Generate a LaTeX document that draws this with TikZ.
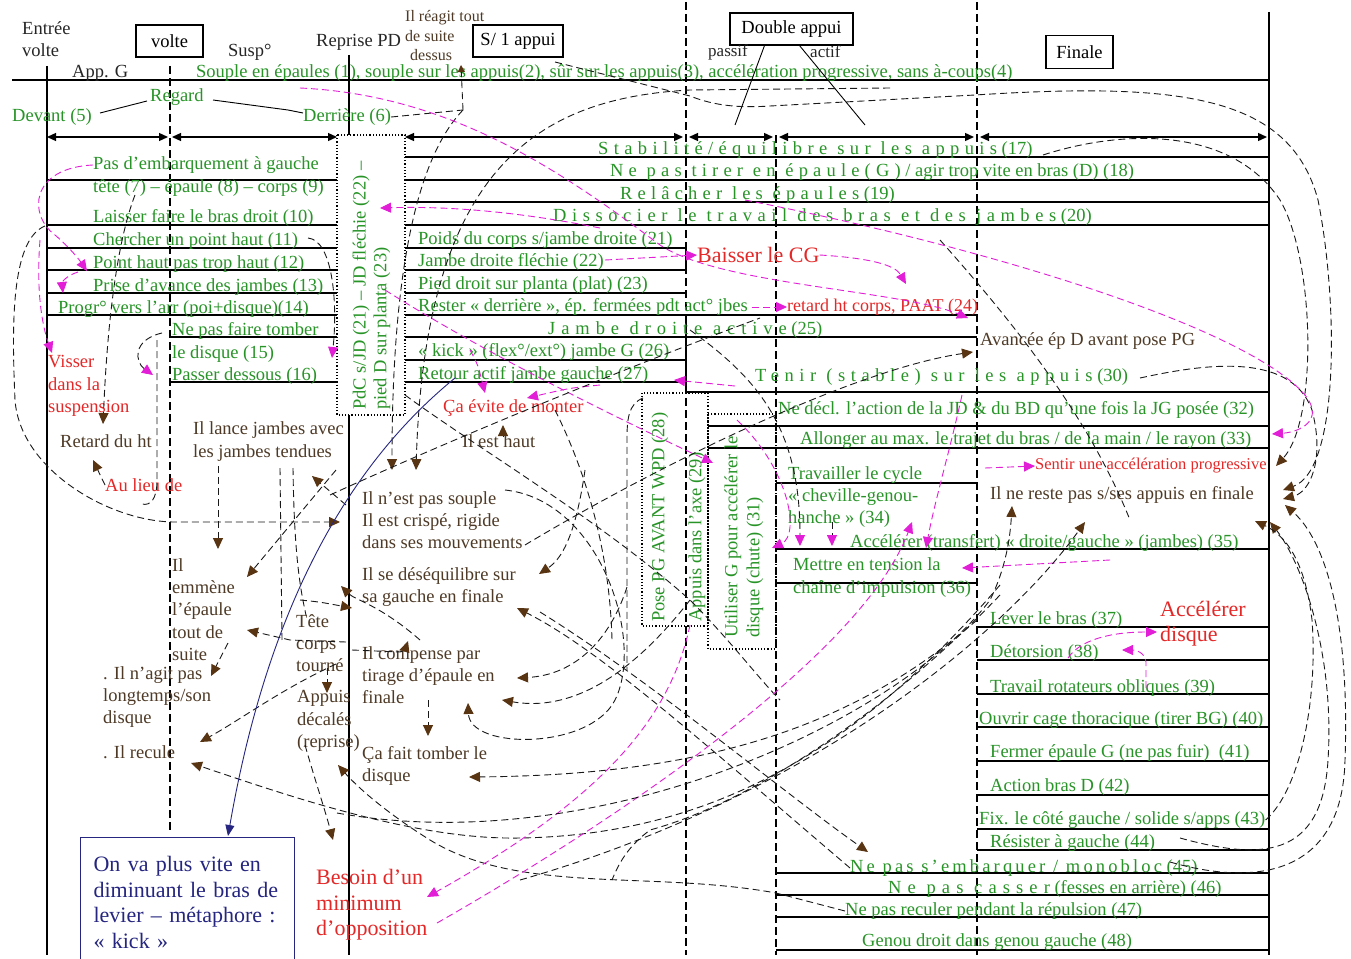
\documentclass[tikz,border=0pt]{standalone}
\usepackage{fontspec}
\setmainfont{Liberation Serif}
\usetikzlibrary{arrows.meta}
\definecolor{grn}{RGB}{40,148,40}
\definecolor{rd}{RGB}{228,40,40}
\definecolor{brn}{RGB}{78,58,38}
\definecolor{tipc}{RGB}{88,52,18}
\definecolor{mag}{RGB}{226,30,214}
\definecolor{nav}{RGB}{38,38,128}
\newcommand\lsp[2][25]{{\addfontfeature{LetterSpace=#1}#2}}
\begin{document}
\begin{tikzpicture}[x=1pt,y=-1pt,
  every node/.style={inner sep=0pt, anchor=west},
  txt/.style={font=\fontsize{18.5}{22.3}\selectfont},
  tgr/.style={txt, text=grn},
  tbr/.style={txt, text=brn},
  tbk/.style={txt, text=black!85},
  treds/.style={txt, text=rd},
  tred/.style={font=\fontsize{22}{25.5}\selectfont, text=rd},
  phase/.style={draw, line width=1.1pt, anchor=center, minimum height=32pt, txt, text=black},
  frm/.style={line width=1.3pt},
  vdash/.style={line width=1.3pt, dash pattern=on 8pt off 4pt},
  dotbox/.style={line width=1.1pt, dash pattern=on 1.2pt off 2pt},
  lk/.style={line width=0.9pt, dash pattern=on 7pt off 4pt, black!90},
  lm/.style={line width=0.9pt, dash pattern=on 7pt off 4pt, mag},
  tipb/.style={-{Triangle[length=11pt,width=10pt,color=tipc]}},
  tipbs/.style={-{Triangle[length=7pt,width=7pt,color=tipc]}},
  tipm/.style={-{Triangle[length=11pt,width=10pt,color=mag]}},
  spanarrow/.style={frm, {Triangle[length=9pt,width=8pt]}-{Triangle[length=9pt,width=8pt]}}
]
\useasboundingbox (0,0) rectangle (1351,958);
\fill[white] (0,0) rectangle (1351,958);

% ---------- frame of the chart ----------
\draw[frm] (12,80) -- (1269,80);
\draw[frm] (47,66) -- (47,955);
\draw[frm] (1269,12) -- (1269,955);
\draw[frm] (349,55) -- (349,135);
\draw[frm] (349,415) -- (349,955);
\draw[vdash] (170,66) -- (170,830);
\draw[vdash] (686,2) -- (686,955);
\draw[vdash] (776,135) -- (776,955);
\draw[vdash] (977,2) -- (977,955);

% phase spans
\draw[spanarrow] (47,137) -- (168,137);
\draw[spanarrow] (172,137) -- (337,137);
\draw[spanarrow] (405,137) -- (683,137);
\draw[spanarrow] (689,137) -- (773,137);
\draw[spanarrow] (779,137) -- (974,137);
\draw[spanarrow] (980,137) -- (1267,137);

% left column rows
\foreach \yy in {180,225,248,270,293,315} \draw[frm] (47,\yy) -- (337,\yy);
\foreach \yy in {337,382} \draw[frm] (170,\yy) -- (337,\yy);

% right part rows
\foreach \yy in {157,180,202,225} \draw[frm] (405,\yy) -- (1269,\yy);
\foreach \yy in {248,270,293,360,382} \draw[frm] (405,\yy) -- (686,\yy);
\foreach \yy in {315,337} \draw[frm] (405,\yy) -- (977,\yy);
\draw[frm] (686,248) -- (686,270);
\draw[frm] (686,315) -- (686,392);
\draw[frm] (686,392) -- (1269,392);
\foreach \yy in {426,448} \draw[frm] (708,\yy) -- (1269,\yy);
\foreach \yy in {483,583} \draw[frm] (776,\yy) -- (977,\yy);
\draw[frm] (776,549) -- (1269,549);
\foreach \yy in {627,660,694,727,761,795,829,850} \draw[frm] (977,\yy) -- (1269,\yy);
\foreach \yy in {873,895,917,950} \draw[frm] (776,\yy) -- (1269,\yy);

% dotted boxes
\draw[dotbox] (337,135) rectangle (405,415);
\draw[dotbox] (642,393) rectangle (708,626);
\draw[dotbox] (708,414) rectangle (776,649);

% ---------- headings ----------
\node[tbk, align=left] (entree) at (22,39) {Entrée\\volte};
\node[phase, minimum width=67pt] (volte) at (169.5,41) {volte};
\node[tbk] (susp) at (228,52) {Susp°};
\node[tbk] (reprise) at (316,42) {Reprise PD};
\node[tbr, align=left, font=\fontsize{16}{19.5}\selectfont] (reagit) at (405,36) {Il réagit tout\\de suite\\\hspace*{5pt}dessus};
\node[phase, minimum width=90pt] (s1) at (518,41) {S/ 1 appui};
\node[phase, minimum width=123pt] (dbl) at (791.5,29) {Double appui};
\node[tbk, font=\fontsize{17}{20}\selectfont] (passif) at (708,52) {passif};
\node[tbk, font=\fontsize{17}{20}\selectfont] (actif) at (810,52) {actif};
\node[phase, minimum width=67pt, minimum height=33pt] (finale) at (1079.5,52) {Finale};
\node[tbk] (appg) at (72,73) {App. G};
\node[tgr] (souple) at (196,73) {Souple en épaules (1), souple sur les appuis(2), sûr sur les appuis(3), accélération progressive, sans à-coups(4)};
\node[tgr] (regard) at (150,97) {Regard};
\node[tgr] (devant) at (12,117) {Devant (5)};
\node[tgr] (derriere) at (303,117) {Derrière (6)};
\draw[line width=0.9pt] (100,113) -- (147,101);
\draw[line width=0.9pt] (213,100) -- (288,110) -- (303,113);
\draw[line width=0.9pt] ([xshift=-27pt]dbl.south) -- (735,125);
\draw[line width=0.9pt] ([xshift=8pt]dbl.south) -- (865,125);

% ---------- left column ----------
\node[tgr] (t5) at (93,165) {Pas d’embarquement à gauche};
\node[tgr] (t7) at (93,188) {tête (7) – épaule (8) – corps (9)};
\node[tgr] (t10) at (93,218) {Laisser faire le bras droit (10)};
\node[tgr] (t11) at (93,241) {Chercher un point haut (11)};
\node[tgr] (t12) at (93,264) {Point haut pas trop haut (12)};
\node[tgr] (t13) at (93,287) {Prise d’avance des jambes (13)};
\node[tgr] (t14) at (58,309) {Progr° vers l’arr (poi+disque)(14)};
\node[tgr, align=left] (t15) at (172,342.5) {Ne pas faire tomber\\le disque (15)};
\node[tgr] (t16) at (172,376) {Passer dessous (16)};
\node[tgr, rotate=90] (pdc1) at (361,410) {PdC s/JD (21) – JD fléchie (22) –};
\node[tgr, rotate=90] (pdc2) at (382,410) {pied D sur planta (23)};

% ---------- right rows ----------
\node[tgr] (t17) at (598,150) {\lsp[29]{Stabilité/équilibre sur les appuis} (17)};
\node[tgr] (t18) at (610,172) {\lsp[28]{Ne pas tirer en épaule(G)} / agir trop vite en bras (D) (18)};
\node[tgr] (t19) at (620,195) {\lsp[28]{Relâcher les épaules} (19)};
\node[tgr] (t20) at (553,217) {\lsp[30]{Dissocier le travail des bras et des jambes} (20)};
\node[tgr] (t21) at (418,240) {Poids du corps s/jambe droite (21)};
\node[tgr] (t22) at (418,262) {Jambe droite fléchie (22)};
\node[tgr] (t23) at (418,285) {Pied droit sur planta (plat) (23)};
\node[tgr] (t24) at (418,307) {Rester « derrière », ép. fermées pdt act° jbes};
\node[treds, font=\fontsize{18}{21}\selectfont] (retard) at (787,307) {retard ht corps, PAAT (24)};
\node[tgr] (t25) at (548,330) {\lsp[32]{Jambe droite active} (25)};
\node[tgr] (t26) at (418,352) {« kick » (flex°/ext°) jambe G (26)};
\node[tgr] (t27) at (418,375) {Retour actif jambe gauche (27)};
\node[tgr] (t30) at (755,377) {\lsp[30]{Tenir (stable) sur les appuis} (30)};
\node[tgr] (t32) at (778,410) {Ne décl. l’action de la JD \& du BD qu’une fois la JG posée (32)};
\node[tgr] (t33) at (800,440) {Allonger au max. le trajet du bras / de la main / le rayon (33)};
\node[tgr, align=left] (t34) at (788,497) {Travailler le cycle\\« cheville-genou-\\hanche » (34)};
\node[tgr] (t35) at (850,543) {Accélérer (transfert) « droite/gauche » (jambes) (35)};
\node[tgr, align=left] (t36) at (793,577.5) {Mettre en tension la\\chaîne d’impulsion (36)};
\node[tgr, rotate=90] (t28) at (660,622) {Pose PG AVANT WPD (28)};
\node[tgr, rotate=90] (t29) at (697,622) {Appuis dans l’axe (29)};
\node[tgr, rotate=90] (t31a) at (733,638) {Utiliser G pour accélérer le};
\node[tgr, rotate=90] (t31b) at (755,638) {disque (chute) (31)};
\node[treds, font=\fontsize{22}{25}\selectfont] (cg) at (697,255) {Baisser le CG};

% ---------- final column ----------
\node[tbr] (avancee) at (980,341) {Avancée ép D avant pose PG};
\node[treds, font=\fontsize{16.5}{19}\selectfont] (sentir) at (1035,466) {Sentir une accélération progressive};
\node[tbr] (reste) at (990,495) {Il ne reste pas s/ses appuis en finale};
\node[tgr] (t37) at (990,620) {Lever le bras (37)};
\node[tred, align=left] (accel) at (1160,623.5) {Accélérer\\disque};
\node[tgr] (t38) at (990,653) {Détorsion (38)};
\node[tgr] (t39) at (990,688) {Travail rotateurs obliques (39)};
\node[tgr] (t40) at (979,720) {Ouvrir cage thoracique (tirer BG) (40)};
\node[tgr] (t41) at (990,753) {Fermer épaule G (ne pas fuir) \ (41)};
\node[tgr] (t42) at (990,787) {Action bras D (42)};
\node[tgr] (t43) at (979,820) {Fix. le côté gauche / solide s/apps (43)};
\node[tgr] (t44) at (990,843) {Résister à gauche (44)};
\node[tgr] (t45) at (850,868) {\lsp[17]{Ne pas s’embarquer / monobloc} (45)};
\node[tgr] (t46) at (888,889) {\lsp[33]{Ne pas casser} (fesses en arrière) (46)};
\node[tgr] (t47) at (845,911) {Ne pas reculer pendant la répulsion (47)};
\node[tgr] (t48) at (862,942) {Genou droit dans genou gauche (48)};

% ---------- observations ----------
\node[treds, align=left] (visser) at (48,386) {Visser\\dans la\\suspension};
\node[tbr] (retardht) at (60,441) {Retard du ht};
\node[treds] (aulieu) at (105,485) {Au lieu de};
\node[tbr, align=left] (lance) at (193,441.5) {Il lance jambes avec\\les jambes tendues};
\node[treds] (evite) at (443,408) {Ça évite de monter};
\node[tbr] (haut) at (462,441) {Il est haut};
\node[tbr, align=left] (souplepas) at (362,520) {Il n’est pas souple\\Il est crispé, rigide\\dans ses mouvements};
\node[tbr, align=left] (desequ) at (362,587) {Il se déséquilibre sur\\sa gauche en finale};
\node[tbr, align=left] (emmene) at (172,609.5) {Il\\emmène\\l’épaule\\tout de\\suite};
\node[tbr, align=left] (tete) at (296,643) {Tête\\corps\\tourné};
\node[tbr, align=left] (appuis) at (297,721) {Appuis\\décalés\\(reprise)};
\node[tbr, align=left] (compense) at (362,675) {Il compense par\\tirage d’épaule en\\finale};
\node[tbr, align=left] (tombe) at (362,766) {Ça fait tomber le\\disque};
\node[tbr, align=left] (agit) at (103,697) {. Il n’agit pas\\longtemps/son\\disque};
\node[tbr] (recule) at (103,752) {. Il recule};
\node[tred, align=left] (besoin) at (316,905) {Besoin d’un\\minimum\\d’opposition};
\node[draw=nav, line width=1.1pt, text=nav, font=\fontsize{22}{25.8}\selectfont, align=left,
      anchor=north west, text width=188pt, minimum height=130pt, inner xsep=13pt, inner ysep=4pt] (kick) at (80,837) {On va plus vite en\\diminuant le bras de\\levier – métaphore :\\« kick »};

% ---------- connectors: top band ----------
\draw[lk] (derriere.east) -- (463,110);
\draw[lk, tipbs] (463,110) -- (461,65);
\draw[lk, tipb] (463,110) .. controls (410,165) and (392,300) .. (392,470);
\draw[lk, tipb] (890,88) -- (690,90) .. controls (540,98) and (425,165) .. (416,470);
\draw[lk, tipb] (555,62) -- (690,96) .. controls (715,106) and (740,108) .. (770,106) -- (975,95) .. controls (1180,82) and (1290,95) .. (1318,200) .. controls (1338,300) and (1340,470) .. (1283,490);
\draw[lk, tipb] (1043,155) .. controls (1120,130) and (1230,125) .. (1280,200) .. controls (1315,260) and (1318,420) .. (1276,466);
\draw[lk, tipb] (1140,378) .. controls (1200,365) and (1290,350) .. (1312,410) .. controls (1325,460) and (1310,492) .. (1283,499);
\draw[lk] (940,240) .. controls (1020,330) and (1090,420) .. (1130,520);

% magenta links, upper part
\draw[lm, tipm] (300,88) .. controls (450,95) and (560,170) .. (660,245) .. controls (720,285) and (900,290) .. (968,318);
\draw[lm, tipm] (600,228) .. controls (520,212) and (450,206) .. (380,208);
\draw[lm, tipm] (605,260) -- (cg.west);
\draw[lm, tipm] (cg.east) .. controls (870,258) and (895,265) .. (906,284);
\draw[lm, tipm] (752,307) -- (retard.west);
\draw[lm, tipm] (745,200) .. controls (1000,250) and (1250,330) .. (1305,395) .. controls (1325,420) and (1300,432) .. (1272,434);

% ---------- connectors: left column ----------
\draw[lm, tipm] (t5.west) .. controls (30,168) and (28,215) .. (55,235) .. controls (68,246) and (78,258) .. (87,271);
\draw[lm, tipm] (78,272) .. controls (65,276) and (62,283) .. (63,293);
\draw[lm, tipm] (40,240) .. controls (36,290) and (42,325) .. (52,353);
\draw[lk, tipm] (162,333) .. controls (132,340) and (135,362) .. (153,375);
\draw[lk, tipm] (308,238) .. controls (332,240) and (338,300) .. (332,358);
\draw[lk, tipb] (45,226) .. controls (10,240) and (12,330) .. (15,400) .. controls (20,470) and (110,522) .. (175,522) -- (340,522);
\draw[lk, tipb] (135,195) .. controls (110,260) and (105,380) .. (103,424);
\draw[lk, tipb] (aulieu.west) -- (93,460);
\draw[lk] (157,340) -- (157,480) .. controls (157,500) and (150,506) .. (142,504);
\draw[lk, tipb] (218,466) -- (218,549);
\draw[lk, tipb] (336,470) -- (247,577);
\draw[lk] (280,468) -- (282,640);
\draw[lk] (293,468) .. controls (294,540) and (298,580) .. (306,615);
\draw[lk, tipb] (346,505) -- (312,476);
\draw[lk, tipb] (346,642) -- (290,640) -- (247,630);
\draw[lk, tipb] (228,643) -- (211,676);
\draw[lk, tipb] (336,664) .. controls (280,690) and (240,720) .. (200,742);
\draw[lk, tipb] (327,668) -- (327,693);
\draw[lk, tipb] (305,745) .. controls (315,780) and (325,810) .. (333,840);
\draw[lk, tipb] (1000,585) .. controls (850,760) and (700,835) .. (520,838) .. controls (420,840) and (300,800) .. (191,763);
\draw[lk, tipb] (t47.west) -- (776,893) .. controls (650,870) and (520,895) .. (430,840) .. controls (390,815) and (360,790) .. (338,765);
\draw[nav, line width=0.9pt, -{Triangle[length=11pt,width=9pt]}] (455,378) .. controls (330,480) and (262,640) .. (228,836);

% ---------- connectors: centre ----------
\draw[lk, tipb] (503,437) -- (503,425);
\draw[lm, tipm] (470,350) .. controls (478,365) .. (485,393);
\draw[lm, tipm] (600,385) .. controls (570,388) .. (527,398);
\draw[lm, tipm] (385,290) .. controls (480,350) and (600,410) .. (713,463);
\draw[lm, tipm] (735,386) -- (674,380);
\draw[lk, tipb] (525,545) .. controls (650,470) and (850,370) .. (973,352);
\draw[lk] (330,495) .. controls (450,440) and (620,370) .. (760,318);
\draw[lk, tipb] (505,490) .. controls (600,500) and (645,640) .. (615,700) .. controls (590,750) and (470,750) .. (468,703);
\draw[lk, tipb] (690,600) .. controls (620,690) and (560,710) .. (502,700);
\draw[lk, tipb] (627,587) .. controls (610,640) and (575,675) .. (517,678);
\draw[lk, tipb] (428,700) -- (428,736);
\draw[lk, tipb] (977,620) .. controls (850,730) and (700,775) .. (469,777);
\draw[lk, tipb] (585,470) .. controls (575,540) and (560,560) .. (539,574);
\draw[lk, tipb] (t45.west) .. controls (700,740) and (600,650) .. (517,608);
\draw[lk, tipb] (540,612) .. controls (650,680) and (780,790) .. (868,852);
\draw[lk, tipb] (352,650) -- (400,652) .. controls (405,650) .. (408,641);
\draw[lk, tipb] (420,640) .. controls (380,605) and (355,600) .. (341,586);
\draw[lk, tipb] (300,600) .. controls (320,602) .. (352,608);
\draw[lk] (643,398) .. controls (628,404) and (627,420) .. (627,440) -- (627,670);
\draw[lk] (405,395) .. controls (480,450) and (600,520) .. (690,600) .. controls (730,640) and (760,680) .. (780,700);
\draw[lk] (555,410) .. controls (590,480) and (610,560) .. (612,640);
\draw[lk] (1000,595) .. controls (900,700) and (760,800) .. (650,830) .. controls (630,845) and (620,860) .. (612,880);

% ---------- connectors: right part ----------
\draw[lk, tipm] (690,330) .. controls (760,380) and (800,430) .. (800,546);
\draw[lk, tipm] (832,522) -- (832,546);
\draw[lm, tipm] (737,420) .. controls (790,470) and (800,535) .. (772,548);
\draw[lm, tipm] (962,395) .. controls (950,450) and (935,500) .. (926,548);
\draw[lm, tipm] (690,625) .. controls (670,720) and (600,800) .. (427,897);
\draw[lm, tipm] (437,923) .. controls (600,830) and (860,660) .. (912,522);
\draw[lm, tipm] (1110,560) -- (962,568);
\draw[lm, tipm] (985,468) -- (sentir.west);
\draw[lm, tipm] (1068,658) .. controls (1080,640) and (1110,632) .. (1157,632);
\draw[lm, tipm] (1146,688) -- (1146,662) .. controls (1145,652) and (1135,650) .. (1122,650);
\draw[lk, tipb] (337,813) .. controls (600,860) and (900,720) .. (990,600) .. controls (1005,570) and (1010,540) .. (1012,506);
\draw[lk, tipb] (520,880) .. controls (800,800) and (1000,640) .. (1085,522);
\draw[lk, tipb] (1180,838) .. controls (1260,860) and (1322,860) .. (1328,760) .. controls (1335,650) and (1300,560) .. (1270,522);
\draw[lk, tipb] (1170,862) .. controls (1250,885) and (1342,880) .. (1345,760) .. controls (1350,620) and (1325,540) .. (1285,505);
\draw[lk, tipb] (t43.east) .. controls (1300,790) and (1318,700) .. (1312,620) .. controls (1305,560) and (1285,535) .. (1255,521);
\end{tikzpicture}
\end{document}
